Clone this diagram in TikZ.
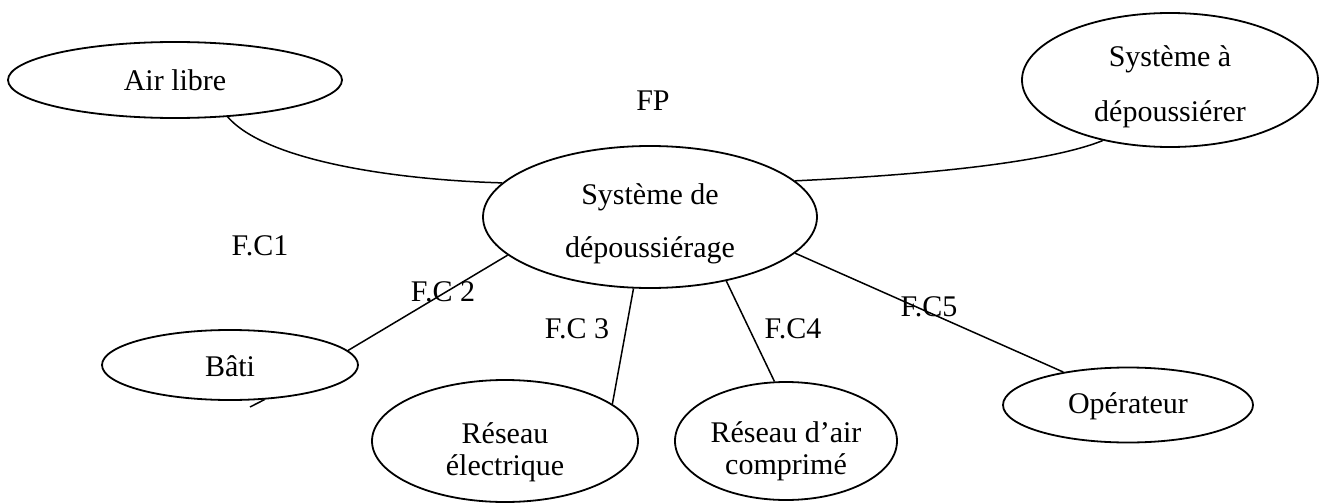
\documentclass[tikz,border=0pt]{standalone}
\usepackage{fontspec}
\setmainfont{Liberation Serif}
\usetikzlibrary{shapes.geometric}
\begin{document}
\begin{tikzpicture}[x=0.5pt,y=-0.5pt,
  ell/.style={draw, ellipse, fill=white, inner sep=0pt, line width=0.9pt},
  txt/.style={inner sep=0pt, align=center, font=\fontsize{15}{16}\selectfont},
  lbl/.style={inner sep=0pt, font=\fontsize{15}{16}\selectfont},
  conn/.style={line width=0.75pt}]
\useasboundingbox (0,0) rectangle (1319,503);
% ellipses
\node[ell, minimum width=167pt, minimum height=38pt] (air) at (175,80) {};
\node[ell, minimum width=148pt, minimum height=67pt] (sad) at (1170,80) {};
\node[ell, minimum width=167pt, minimum height=71pt] (sys) at (650,217) {};
\node[ell, minimum width=128pt, minimum height=35pt] (bati) at (230,365) {};
\node[ell, minimum width=133pt, minimum height=61pt] (elec) at (505,441) {};
\node[ell, minimum width=111pt, minimum height=59pt] (comp) at (786,441) {};
\node[ell, minimum width=125pt, minimum height=37.5pt] (oper) at (1128,405) {};
% texts inside
\node[txt] (airT) at (175,80) {Air libre};
\node[txt, font=\fontsize{15}{27.5}\selectfont] (sadT) at (1170,87) {Système à\\dépoussiérer};
\node[txt, font=\fontsize{15}{26.5}\selectfont] (sysT) at (650,224) {Système de\\dépoussiérage};
\node[txt] (batiT) at (230,366) {Bâti};
\node[txt] (elecT) at (505,452) {Réseau\\électrique};
\node[txt] (compT) at (786,451) {Réseau d’air\\comprimé};
\node[txt] (operT) at (1128,406) {Opérateur};
% labels
\node[lbl] (fp) at (653,101) {FP};
\node[lbl] (fc1) at (260,246) {F.C1};
\node[lbl] (fc2) at (443,292) {F.C 2};
\node[lbl] (fc3) at (577,329) {F.C 3};
\node[lbl] (fc4) at (793,329) {F.C4};
\node[lbl] (fc5) at (929,307) {F.C5};
% connectors
\coordinate (stub) at (250,407);
\draw[conn] (air.-35.4) .. controls (267,162) and (400,180) .. (sys.167.8);
\draw[conn] (sad.-138.6) .. controls (1042,165) and (900,176) .. (sys.14.1);
\draw[conn] (bati.7.4) -- (sys.-165.3);
\draw[conn] (bati.-45.7) -- (stub);
\draw[conn] (sys.-103.5) -- (elec.19.2);
\draw[conn] (sys.-40.4) -- (comp.101);
\draw[conn] (sys.-14) -- (oper.153.4);
\end{tikzpicture}
\end{document}
